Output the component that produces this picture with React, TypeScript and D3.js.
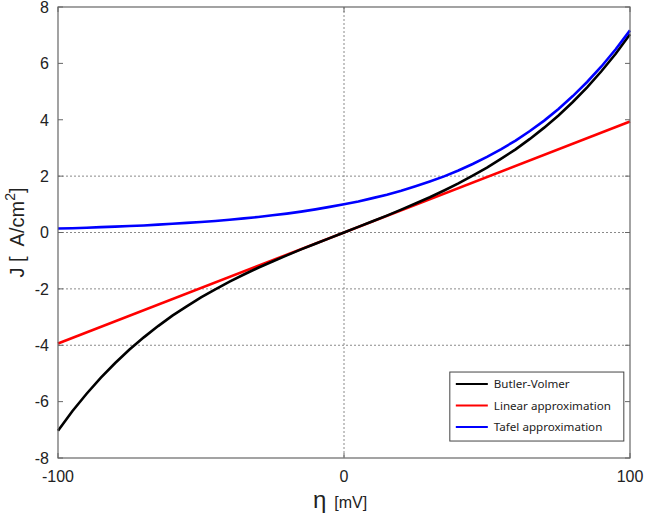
import React from "react"
import * as d3 from "d3"

// overpotential samples (mV)
const eta = [-100, -95, -90, -85, -80, -75, -70, -65, -60, -55, -50, -45, -40, -35, -30, -25, -20, -15, -10, -5,
  0, 5, 10, 15, 20, 25, 30, 35, 40, 45, 50, 55, 60, 65, 70, 75, 80, 85, 90, 95, 100]

const butlerVolmer = [-7.03, -6.34, -5.72, -5.15, -4.63, -4.15, -3.72, -3.32, -2.95, -2.62, -2.30, -2.02, -1.74, -1.49, -1.25, -1.03, -0.81, -0.60, -0.40, -0.20,
  0, 0.20, 0.40, 0.60, 0.81, 1.03, 1.25, 1.49, 1.74, 2.02, 2.30, 2.62, 2.95, 3.32, 3.72, 4.15, 4.63, 5.15, 5.72, 6.34, 7.03]

const tafel = [0.14, 0.15, 0.17, 0.19, 0.21, 0.23, 0.25, 0.28, 0.31, 0.34, 0.37, 0.41, 0.45, 0.50, 0.55, 0.61, 0.67, 0.74, 0.82, 0.91,
  1.00, 1.10, 1.22, 1.34, 1.48, 1.64, 1.81, 1.99, 2.20, 2.43, 2.68, 2.96, 3.26, 3.60, 3.97, 4.38, 4.84, 5.34, 5.89, 6.50, 7.17]

const linearEta = [-100, 100]
const linearJ = [-3.94, 3.94]

const xTicks = [-100, 0, 100]
const yTicks = [-8, -6, -4, -2, 0, 2, 4, 6, 8]
const yGrid = [-4, -2, 0, 2]

const legendItems = [
  { label: "Butler-Volmer", color: "#000000" },
  { label: "Linear approximation", color: "#ff0000" },
  { label: "Tafel approximation", color: "#0000ff" },
]

export default function App() {
  const width = 645
  const height = 516
  const margin = { top: 7, right: 15, bottom: 58, left: 58 }
  const innerW = width - margin.left - margin.right
  const innerH = height - margin.top - margin.bottom

  const x = d3.scaleLinear().domain([-100, 100]).range([0, innerW])
  const y = d3.scaleLinear().domain([-8, 8]).range([innerH, 0])

  const line = d3.line<[number, number]>()
    .x(d => x(d[0]))
    .y(d => y(d[1]))

  const bvPts = eta.map((e, i) => [e, butlerVolmer[i]] as [number, number])
  const tafPts = eta.map((e, i) => [e, tafel[i]] as [number, number])
  const linPts = linearEta.map((e, i) => [e, linearJ[i]] as [number, number])

  const tickFont = "'Liberation Sans', Arial, sans-serif"
  const gridColor = "#8a8a8a"
  const frameColor = "#666"

  return (
    <svg width={width} height={height} style={{ position: "absolute", left: 0, top: 0, background: "#fff" }}>
      <g transform={"translate(" + margin.left + "," + margin.top + ")"}>
        {/* grid */}
        {yGrid.map(v => (
          <line key={"gy" + v} x1={0} x2={innerW} y1={y(v)} y2={y(v)}
            stroke={gridColor} strokeWidth={1} strokeDasharray="2,2" />
        ))}
        <line x1={x(0)} x2={x(0)} y1={0} y2={innerH} stroke={gridColor} strokeWidth={1} strokeDasharray="2,2" />

        {/* curves */}
        <path d={line(linPts) || ""} fill="none" stroke="#ff0000" strokeWidth={2.6} />
        <path d={line(bvPts) || ""} fill="none" stroke="#000000" strokeWidth={2.6} />
        <path d={line(tafPts) || ""} fill="none" stroke="#0000ff" strokeWidth={2.6} />

        {/* frame */}
        <rect x={0} y={0} width={innerW} height={innerH} fill="none" stroke={frameColor} strokeWidth={1.2} />

        {/* ticks */}
        {yTicks.map(v => (
          <g key={"ty" + v}>
            <line x1={0} x2={5} y1={y(v)} y2={y(v)} stroke={frameColor} />
            <line x1={innerW - 5} x2={innerW} y1={y(v)} y2={y(v)} stroke={frameColor} />
            <text x={-9} y={y(v)} dy="0.36em" textAnchor="end" fontFamily={tickFont} fontSize={16} fill="#222">
              {v}
            </text>
          </g>
        ))}
        {xTicks.map(v => (
          <g key={"tx" + v}>
            <line x1={x(v)} x2={x(v)} y1={innerH} y2={innerH - 5} stroke={frameColor} />
            <line x1={x(v)} x2={x(v)} y1={0} y2={5} stroke={frameColor} />
            <text x={x(v)} y={innerH + 24} textAnchor="middle" fontFamily={tickFont} fontSize={16} fill="#222">
              {v}
            </text>
          </g>
        ))}

        {/* axis labels */}
        <text x={innerW / 2 - 4} y={innerH + 50} textAnchor="middle" fontFamily={tickFont} fill="#222">
          <tspan fontSize={24}>η</tspan>
          <tspan fontSize={16} dx={8}>[mV]</tspan>
        </text>
        <text transform={"translate(" + (-34) + "," + (innerH / 2) + ") rotate(-90)"} textAnchor="middle"
          fontFamily={tickFont} fontSize={20} fill="#222" xmlSpace="preserve">
          J [  A/cm<tspan fontSize={14} dy={-9}>2</tspan><tspan dy={9}>]</tspan>
        </text>

        {/* legend */}
        <g transform={"translate(" + (x(37)) + "," + (y(-4.95)) + ")"}>
          <rect x={0} y={0} width={174} height={69} fill="#fff" stroke="#444" strokeWidth={1} />
          {legendItems.map((item, i) => (
            <g key={item.label} transform={"translate(0," + (12 + i * 21.5) + ")"}>
              <line x1={6} x2={38} y1={0} y2={0} stroke={item.color} strokeWidth={2} />
              <text x={44} y={0} dy="0.35em" fontFamily="'Noto Sans', sans-serif" fontSize={11.6} fill="#222">
                {item.label}
              </text>
            </g>
          ))}
        </g>
      </g>
    </svg>
  )
}
